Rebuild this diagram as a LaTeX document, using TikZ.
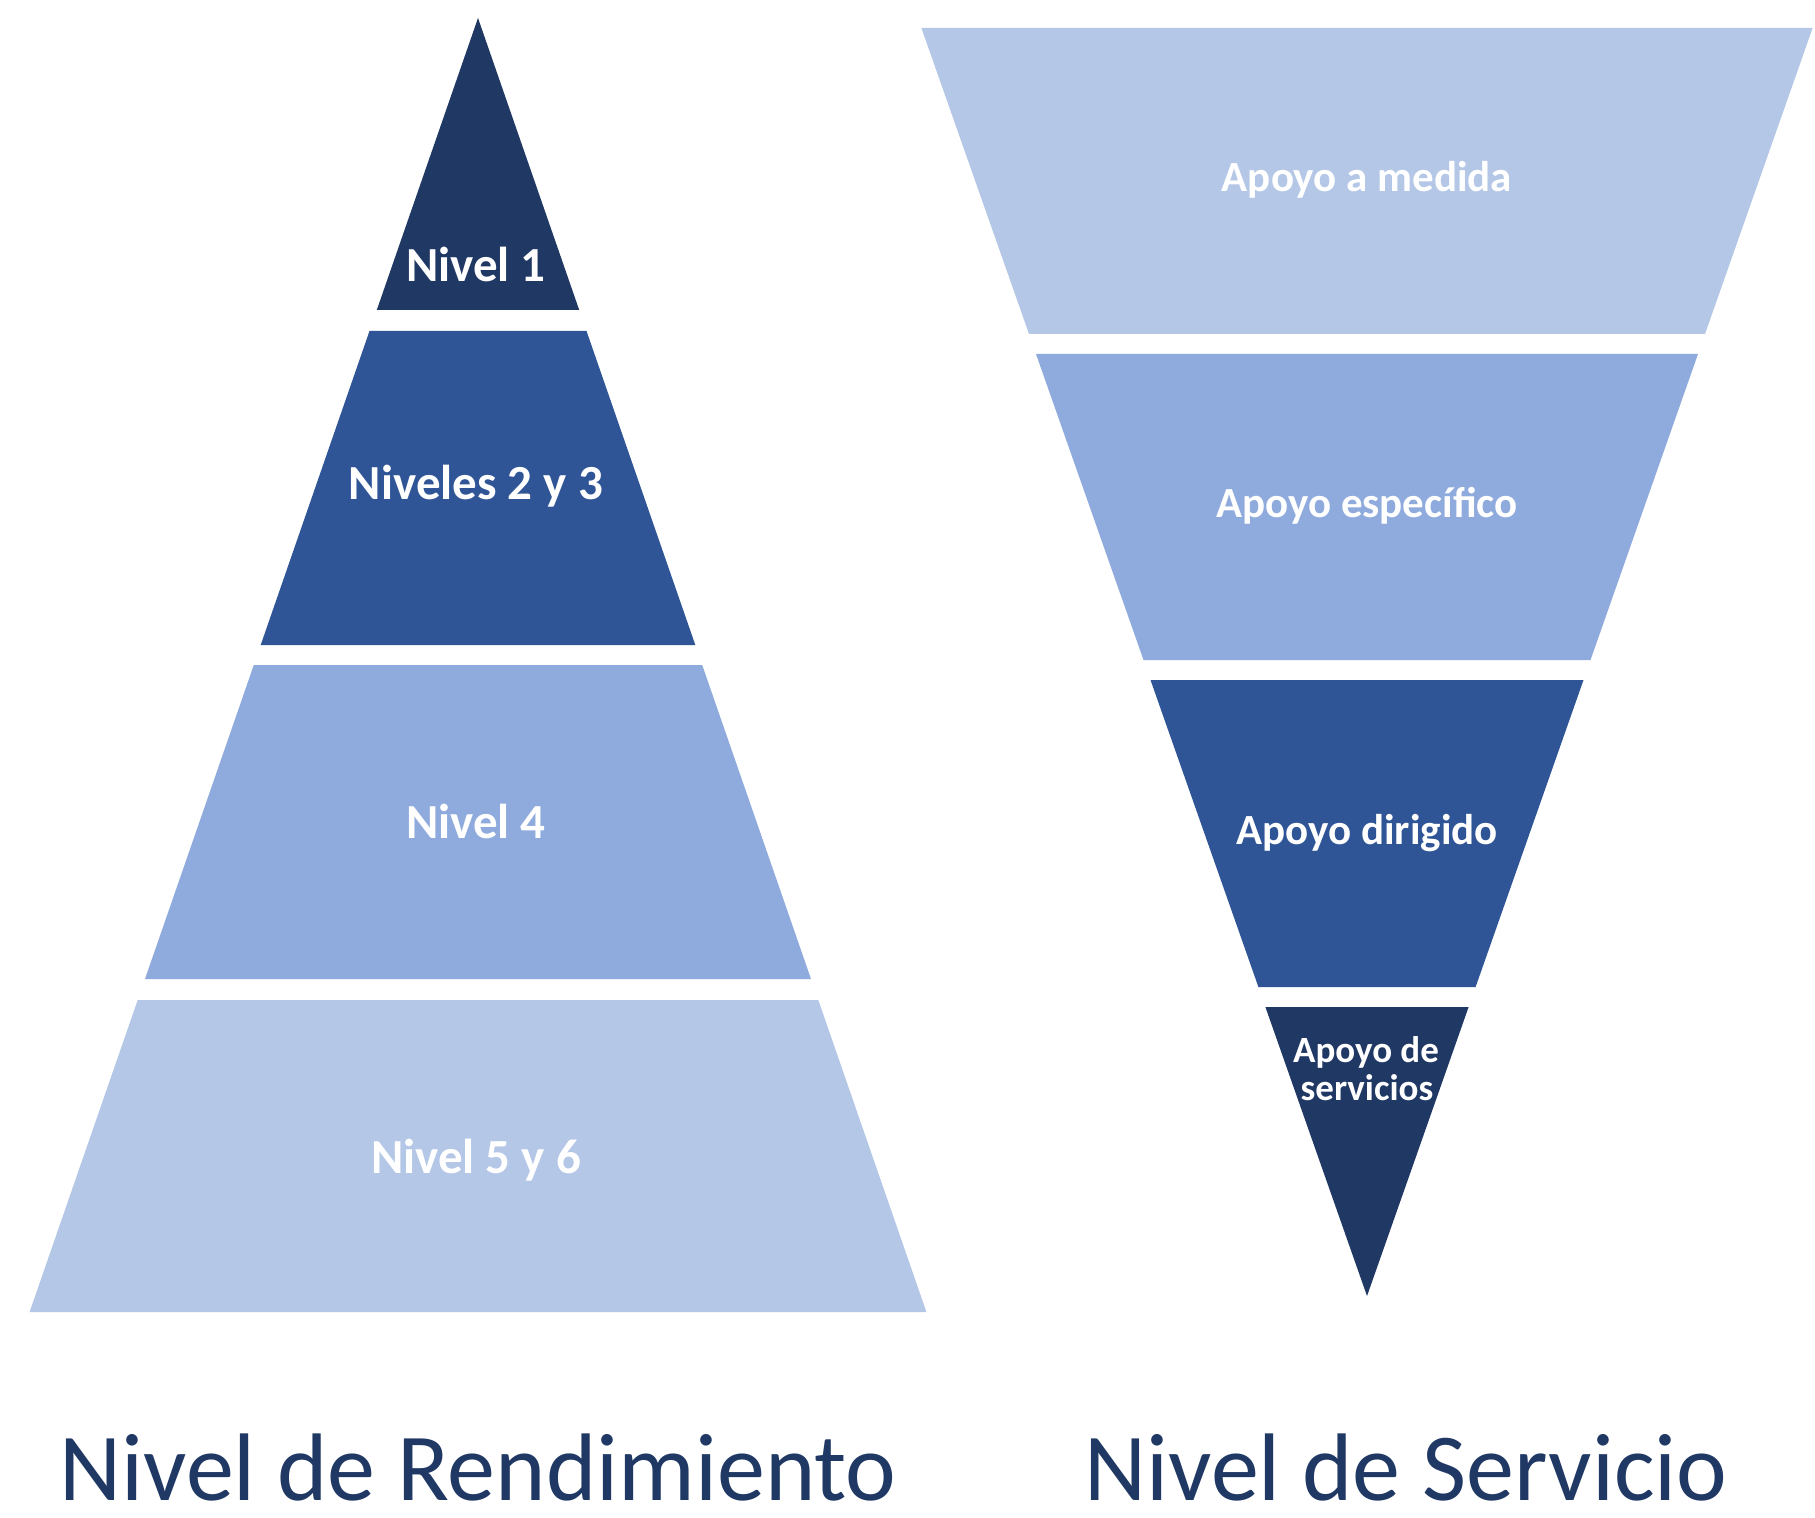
\documentclass[tikz,border=0pt]{standalone}
\usepackage{fontspec}
\setmainfont{Carlito}
\definecolor{bandA}{HTML}{203864}
\definecolor{bandB}{HTML}{2F5597}
\definecolor{bandC}{HTML}{8FAADC}
\definecolor{bandD}{HTML}{B4C7E7}
\definecolor{titlecol}{HTML}{1F3864}
\begin{document}
\begin{tikzpicture}[x=0.5pt,y=-0.5pt,
  lblL/.style={text=white,font=\bfseries\fontsize{24.5}{24.5}\selectfont,anchor=base,inner sep=0pt},
  lblR/.style={text=white,font=\bfseries\fontsize{21.5}{21.5}\selectfont,anchor=base,inner sep=0pt},
  lblS/.style={text=white,font=\bfseries\fontsize{18.5}{18.5}\selectfont,anchor=base,inner sep=0pt},
  ttl/.style={text=titlecol,font=\fontsize{48}{48}\selectfont,anchor=base,inner sep=0pt,text depth=0pt}]
\useasboundingbox (0,0) rectangle (1815,1518);
\fill[white] (0,0) rectangle (1815,1518);
% left pyramid
\fill[bandA] (478,18) -- (579.2,310) -- (376.8,310) -- cycle;
\fill[bandB] (369.5,331) -- (586.5,331) -- (695.3,645) -- (260.7,645) -- cycle;
\fill[bandC] (253.8,665) -- (702.2,665) -- (811,979) -- (145,979) -- cycle;
\fill[bandD] (137.7,1000) -- (818.3,1000) -- (926.4,1312) -- (29.6,1312) -- cycle;
% right funnel
\fill[bandD] (921.4,28) -- (1812.6,28) -- (1705,334) -- (1029,334) -- cycle;
\fill[bandC] (1036,354) -- (1698,354) -- (1590.5,660) -- (1143.5,660) -- cycle;
\fill[bandB] (1150.5,680) -- (1583.5,680) -- (1475.6,987) -- (1258.4,987) -- cycle;
\fill[bandA] (1265.4,1007) -- (1468.6,1007) -- (1367,1296) -- cycle;
% labels
\node[lblL] (n1) at (476,282) {Nivel 1};
\node[lblL] (n23) at (476,500) {Niveles 2 y 3};
\node[lblL] (n4) at (476,838) {Nivel 4};
\node[lblL] (n56) at (476,1173) {Nivel 5 y 6};
\node[lblR] (a1) at (1367,192) {Apoyo a medida};
\node[lblR] (a2) at (1367,518) {Apoyo específico};
\node[lblR] (a3) at (1367,844) {Apoyo dirigido};
\node[lblS] (a4a) at (1366,1062) {Apoyo de};
\node[lblS] (a4b) at (1367,1100) {servicios};
% titles
\node[ttl] (tL) at (478,1500) {Nivel de Rendimiento};
\node[ttl] (tR) at (1406,1500) {Nivel de Servicio};
\end{tikzpicture}
\end{document}
